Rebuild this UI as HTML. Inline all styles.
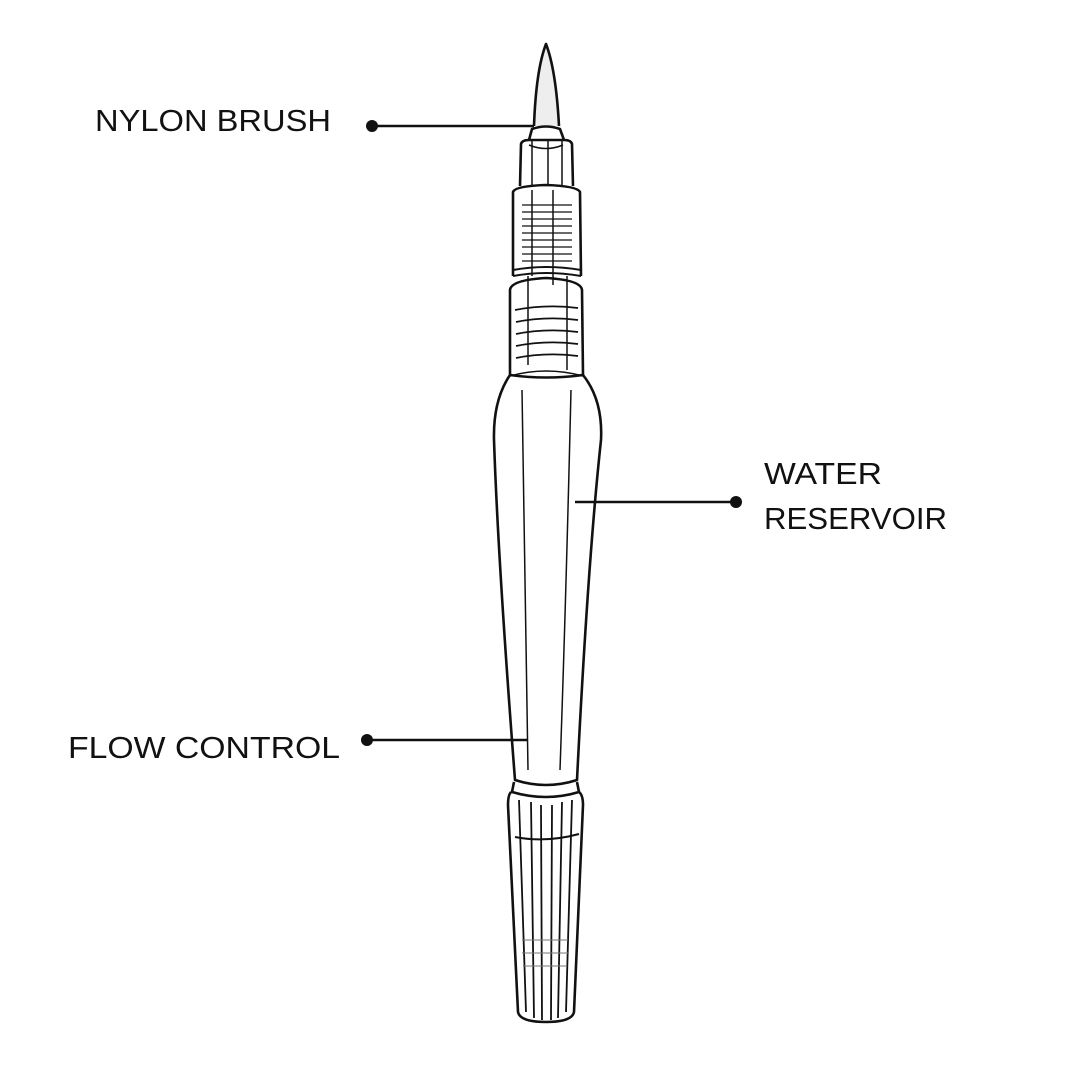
<!DOCTYPE html>
<html><head><meta charset="utf-8"><style>html,body{margin:0;padding:0;background:#fff}svg{display:block}</style></head>
<body>
<svg width="1080" height="1080" viewBox="0 0 1080 1080" xmlns="http://www.w3.org/2000/svg">
<rect width="1080" height="1080" fill="#fff"/>
<g font-family="Liberation Sans, sans-serif" font-size="31" fill="#111">
<text x="95" y="131" textLength="236" lengthAdjust="spacingAndGlyphs">NYLON BRUSH</text>
<text x="764" y="484" textLength="118" lengthAdjust="spacingAndGlyphs">WATER</text>
<text x="764" y="529" textLength="183" lengthAdjust="spacingAndGlyphs">RESERVOIR</text>
<text x="68" y="758" textLength="272" lengthAdjust="spacingAndGlyphs">FLOW CONTROL</text>
</g>
<g stroke="#111" stroke-width="2.5" fill="none">
<line x1="372" y1="126" x2="534" y2="126"/>
<line x1="575" y1="502" x2="736" y2="502"/>
<line x1="367" y1="740" x2="528" y2="740"/>
</g>
<g fill="#111"><circle cx="372" cy="126" r="6"/><circle cx="736" cy="502" r="6"/><circle cx="367" cy="740" r="6"/></g>
<g stroke="#111" stroke-width="2.6" fill="none" stroke-linejoin="round">
<path d="M534 126 Q536 70 546 44 Q556 70 559 126" fill="#eee"/>
<path d="M529 140 L532 129 Q546 124 560 129 L564 140"/>
<path d="M520 186 L521 144 Q522 140 529 140 L564 140 Q571 140 572 144 L573 186"/>
<path d="M529 145 Q546 152 563 145" stroke-width="1.5"/>
<line x1="532" y1="140" x2="532" y2="186" stroke-width="1.5"/>
<line x1="548" y1="140" x2="548" y2="186" stroke-width="1.5"/>
<line x1="562" y1="140" x2="562" y2="186" stroke-width="1.5"/>
<path d="M513 276 L513 192 Q515 186 546 185 Q577 186 580 192 L581 276"/>
<path d="M513 276 Q546 270 581 276 M513 270 Q546 264 581 270" stroke-width="2"/>
<line x1="532" y1="190" x2="532" y2="276" stroke-width="1.5"/>
<line x1="553" y1="190" x2="553" y2="285" stroke-width="1.5"/>
<line x1="567" y1="276" x2="567" y2="370" stroke-width="1.5"/>
<line x1="528" y1="276" x2="528" y2="365" stroke-width="1.5"/>
<g stroke-width="1.2">
<path d="M522 205 H572 M522 212 H572 M522 219 H572 M522 226 H572 M522 233 H572 M522 240 H572 M522 247 H572 M522 254 H572 M522 261 H572"/>
</g>
<path d="M510 375 L510 290 Q511 280 546 278 Q581 280 582 290 L583 375"/>
<path d="M515 310 Q546 304 578 308 M516 322 Q546 316 578 320 M516 334 Q546 328 578 332 M516 346 Q546 340 578 344 M516 358 Q546 352 578 356" stroke-width="1.8"/>
<path d="M510 375 Q493 400 494 440 Q498 560 515 780 Q546 790 577 780 Q588 560 601 440 Q603 400 583 375 Q546 380 510 375 Z"/>
<path d="M522 390 Q526 600 528 770" stroke-width="1.5"/>
<path d="M571 390 Q566 600 560 770" stroke-width="1.5"/>
<path d="M510 376 Q546 366 583 376" stroke-width="1.5"/>
<path d="M514 782 L512 792 Q546 802 579 792 L577 782"/>
<path d="M511 792 Q508 795 508 805 L518 1012 Q520 1022 546 1022 Q572 1022 574 1012 L583 805 Q583 795 579 792"/>
<path d="M515 837 Q546 843 579 834" stroke-width="2"/>
<g stroke-width="1.8">
<line x1="519" y1="800" x2="526" y2="1012"/>
<line x1="531" y1="802" x2="534" y2="1018"/>
<line x1="541" y1="805" x2="542" y2="1020"/>
<line x1="552" y1="805" x2="551" y2="1020"/>
<line x1="562" y1="802" x2="558" y2="1018"/>
<line x1="572" y1="800" x2="566" y2="1012"/>
</g>
<path d="M522 940 H568 M522 953 H568 M523 966 H567" stroke-width="1" stroke="#777"/>
</g>
</svg>
</body></html>
